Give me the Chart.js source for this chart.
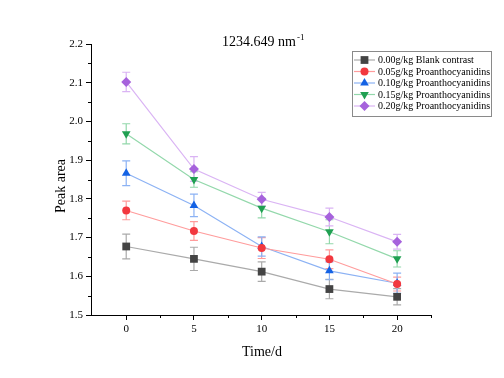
<!DOCTYPE html>
<html>
<head>
<meta charset="utf-8">
<script src="https://cdn.jsdelivr.net/npm/chart.js@4.4.0/dist/chart.umd.min.js"></script>
<style>
  html, body { margin: 0; padding: 0; background: #fff; }
  #wrap { width: 504px; height: 378px; }
</style>
</head>
<body>
<div id="wrap"><canvas id="peakChart" width="504" height="378"></canvas></div>
<script>
const days = [0, 5, 10, 15, 20];
const xTicks = [0, 5, 10, 15, 20];
const yTicks = [1.5, 1.6, 1.7, 1.8, 1.9, 2.0, 2.1, 2.2];

const seriesNames = [
  "0.00g/kg Blank contrast",
  "0.05g/kg Proanthocyanidins",
  "0.10g/kg Proanthocyanidins",
  "0.15g/kg Proanthocyanidins",
  "0.20g/kg Proanthocyanidins"
];
const blank = [1.677, 1.645, 1.612, 1.567, 1.547];
const pa005 = [1.770, 1.717, 1.673, 1.644, 1.580];
const pa010 = [1.866, 1.783, 1.677, 1.614, 1.582];
const pa015 = [1.968, 1.850, 1.776, 1.715, 1.645];
const pa020 = [2.102, 1.877, 1.799, 1.753, 1.689];

const blankErr = [0.032, 0.030, 0.025, 0.025, 0.021];
const pa005Err = [0.024, 0.024, 0.027, 0.024, 0.018];
const pa010Err = [0.032, 0.029, 0.025, 0.023, 0.026];
const pa015Err = [0.026, 0.020, 0.025, 0.031, 0.021];
const pa020Err = [0.025, 0.032, 0.018, 0.023, 0.019];

(function(){
  const serif = "'Liberation Serif', 'Times New Roman', serif";
  const styles = [
    { marker: '#444444', line: '#aaaaaa', shape: 'rect', r: 5.5, rot: 0 },
    { marker: '#f2383f', line: '#ff9c9c', shape: 'circle', r: 4, rot: 0 },
    { marker: '#1462e4', line: '#8cb2f4', shape: 'triangle', r: 5, rot: 0 },
    { marker: '#20a052', line: '#93d8ab', shape: 'triangle', r: 5, rot: 180 },
    { marker: '#a662dc', line: '#dab4f4', shape: 'rectRot', r: 5, rot: 0 }
  ];
  const values = [blank, pa005, pa010, pa015, pa020];
  const errors = [blankErr, pa005Err, pa010Err, pa015Err, pa020Err];

  const datasets = values.map((vals, i) => ({
    label: seriesNames[i],
    data: days.map((d, j) => ({ x: d, y: vals[j] })),
    borderColor: styles[i].line,
    borderWidth: 1.2,
    backgroundColor: styles[i].marker,
    pointBackgroundColor: styles[i].marker,
    pointBorderColor: styles[i].marker,
    pointBorderWidth: 0,
    pointStyle: styles[i].shape,
    pointRadius: styles[i].r,
    pointRotation: styles[i].rot,
    showLine: true,
    errs: errors[i],
    errColor: styles[i].line
  }));

  // error bars, drawn before the points
  const errorBars = {
    id: 'errorBars',
    beforeDatasetsDraw(chart){
      const c = chart.ctx;
      const ys = chart.scales.y;
      c.save();
      chart.data.datasets.forEach((ds, i) => {
        const meta = chart.getDatasetMeta(i);
        c.strokeStyle = ds.errColor;
        c.lineWidth = 1.2;
        meta.data.forEach((pt, j) => {
          const v = ds.data[j].y, e = ds.errs[j];
          const top = ys.getPixelForValue(v + e);
          const bot = ys.getPixelForValue(v - e);
          c.beginPath();
          c.moveTo(pt.x, top); c.lineTo(pt.x, bot);
          c.moveTo(pt.x - 4, top); c.lineTo(pt.x + 4, top);
          c.moveTo(pt.x - 4, bot); c.lineTo(pt.x + 4, bot);
          c.stroke();
        });
      });
      c.restore();
    }
  };

  // minor ticks, titles, boxed legend
  const decorations = {
    id: 'decorations',
    afterDraw(chart){
      const c = chart.ctx;
      const xs = chart.scales.x, ys = chart.scales.y;
      const area = chart.chartArea;
      c.save();
      c.strokeStyle = '#000';
      c.lineWidth = 1;
      c.beginPath();
      [2.5, 7.5, 12.5, 17.5, 22.5].forEach(v => {
        const px = Math.round(xs.getPixelForValue(v)) + 0.5;
        if (px > area.right + 1) return;
        c.moveTo(px, area.bottom); c.lineTo(px, area.bottom + 3);
      });
      for (let k = 0; k < 7; k++) {
        const py = Math.round(ys.getPixelForValue(1.55 + k * 0.1)) + 0.5;
        c.moveTo(area.left, py); c.lineTo(area.left - 3, py);
      }
      c.stroke();

      c.fillStyle = '#000';
      c.textBaseline = 'alphabetic';
      c.font = '14px ' + serif;
      const main = '1234.649 nm';
      c.fillText(main, 222, 46);
      const w = c.measureText(main).width;
      c.font = '9px ' + serif;
      c.fillText('-1', 222 + w + 1, 40);

      // axis titles
      c.font = '14px ' + serif;
      c.textAlign = 'center';
      c.textBaseline = 'middle';
      c.fillText('Time/d', 262, 352);
      c.save();
      c.translate(61, 186);
      c.rotate(-Math.PI / 2);
      c.fillText('Peak area', 0, 0);
      c.restore();
      c.textAlign = 'left';

      // legend
      const lx = 352, ly = 51, lw = 139, lh = 65;
      c.strokeStyle = '#8a8a8a';
      c.lineWidth = 1;
      c.strokeRect(lx + 0.5, ly + 0.5, lw, lh);
      c.font = '10px ' + serif;
      chart.data.datasets.forEach((ds, i) => {
        const yy = 60 + i * 11.5;
        c.strokeStyle = ds.borderColor;
        c.lineWidth = 1.2;
        c.beginPath();
        c.moveTo(354, yy); c.lineTo(375, yy);
        c.stroke();
        c.fillStyle = ds.pointBackgroundColor;
        Chart.helpers.drawPoint(c, {
          pointStyle: ds.pointStyle,
          radius: ds.pointRadius,
          rotation: ds.pointRotation,
          borderWidth: 0
        }, 364.5, yy);
        c.fillStyle = '#000';
        c.fillText(ds.label, 378, yy + 0.5);
      });
      c.restore();
    }
  };

  new Chart(document.getElementById('peakChart'), {
    type: 'scatter',
    data: { datasets },
    options: {
      responsive: false,
      animation: false,
      layout: { padding: { left: 0, right: 73, top: 44, bottom: 0 } },
      plugins: { legend: { display: false }, tooltip: { enabled: false }, title: { display: false } },
      scales: {
        x: {
          type: 'linear',
          min: -2.6,
          max: 22.5,
          afterBuildTicks: s => { s.ticks = xTicks.map(v => ({ value: v })); },
          afterFit: s => { s.height = 63; },
          border: { color: '#000', width: 1 },
          grid: { drawOnChartArea: false, drawTicks: true, tickLength: 5, color: '#000' },
          ticks: { color: '#000', font: { family: serif, size: 11 }, padding: 3, maxRotation: 0 }
        },
        y: {
          min: 1.5,
          max: 2.2,
          afterBuildTicks: s => { s.ticks = yTicks.map(v => ({ value: v })); },
          afterFit: s => { s.width = 91; },
          border: { color: '#000', width: 1 },
          grid: { drawOnChartArea: false, drawTicks: true, tickLength: 5, color: '#000' },
          ticks: { color: '#000', font: { family: serif, size: 11 }, padding: 3, callback: v => v.toFixed(1) }
        }
      }
    },
    plugins: [errorBars, decorations]
  });
})();
</script>
</body>
</html>
